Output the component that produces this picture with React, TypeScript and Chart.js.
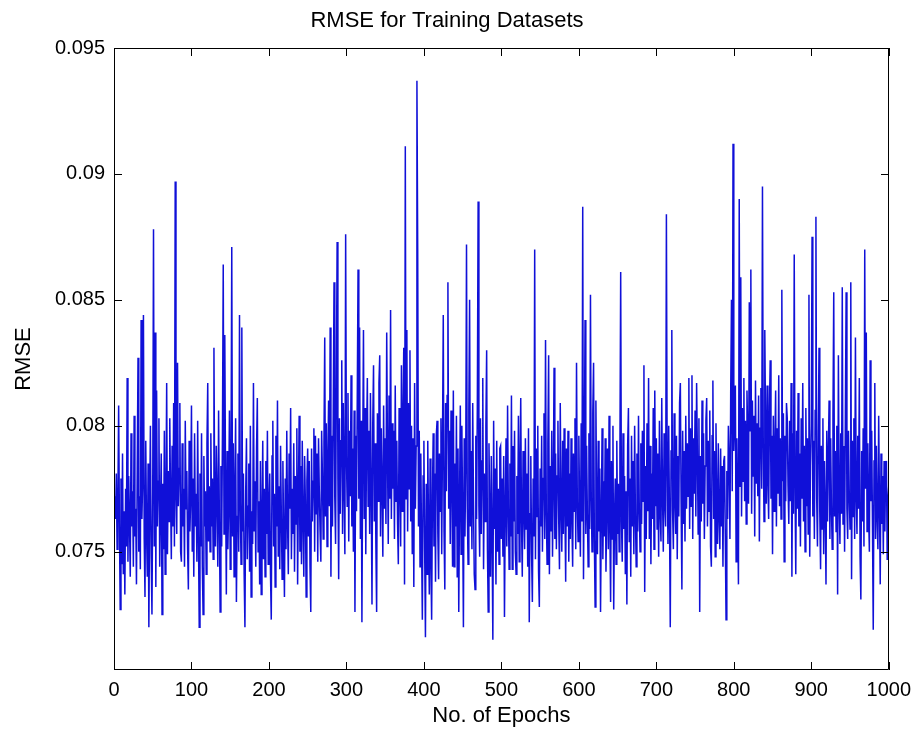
import React, { useEffect, useRef } from "react";
import { Chart, registerables } from "chart.js";

Chart.register(...registerables);

const chartTitle = "RMSE for Training Datasets";
const xAxisLabel = "No. of Epochs";
const yAxisLabel = "RMSE";

const xTickValues = [0, 100, 200, 300, 400, 500, 600, 700, 800, 900, 1000];
const xTickLabels = ["0", "100", "200", "300", "400", "500", "600", "700", "800", "900", "1000"];
const yTickValues = [0.075, 0.08, 0.085, 0.09, 0.095];
const yTickLabels = ["0.075", "0.08", "0.085", "0.09", "0.095"];
const yMin = 0.0703;
const yMax = 0.095;
const xMin = 0;
const xMax = 1000;

// RMSE per epoch (epochs 1..1000)
const rmse: number[] = [
  0.0772, 0.0763, 0.0781, 0.0751, 0.0769, 0.0808, 0.0761, 0.0727, 0.0779, 0.0745,
  0.0789, 0.0741, 0.0766, 0.0733, 0.0775, 0.0752, 0.0819, 0.0746, 0.0780, 0.0762,
  0.0740, 0.0797, 0.0760, 0.0774, 0.0744, 0.0804, 0.0756, 0.0767, 0.0737, 0.0783,
  0.0827, 0.0750, 0.0772, 0.0743, 0.0842, 0.0763, 0.0778, 0.0844, 0.0755, 0.0732,
  0.0794, 0.0758, 0.0740, 0.0785, 0.0720, 0.0767, 0.0800, 0.0748, 0.0725, 0.0774,
  0.0878, 0.0752, 0.0837, 0.0736, 0.0814, 0.0760, 0.0778, 0.0803, 0.0744, 0.0768,
  0.0789, 0.0725, 0.0777, 0.0751, 0.0798, 0.0741, 0.0769, 0.0817, 0.0749, 0.0782,
  0.0762, 0.0803, 0.0772, 0.0747, 0.0792, 0.0760, 0.0809, 0.0752, 0.0897, 0.0772,
  0.0757, 0.0825, 0.0768, 0.0783, 0.0809, 0.0750, 0.0746, 0.0793, 0.0760, 0.0775,
  0.0744, 0.0802, 0.0767, 0.0782, 0.0751, 0.0735, 0.0794, 0.0758, 0.0772, 0.0808,
  0.0750, 0.0779, 0.0740, 0.0797, 0.0760, 0.0773, 0.0746, 0.0802, 0.0757, 0.0720,
  0.0781, 0.0752, 0.0797, 0.0744, 0.0725, 0.0788, 0.0760, 0.0774, 0.0741, 0.0793,
  0.0817, 0.0754, 0.0776, 0.0750, 0.0797, 0.0760, 0.0779, 0.0747, 0.0831, 0.0768,
  0.0752, 0.0792, 0.0771, 0.0744, 0.0806, 0.0763, 0.0726, 0.0784, 0.0752, 0.0798,
  0.0864, 0.0757, 0.0836, 0.0777, 0.0733, 0.0790, 0.0751, 0.0769, 0.0806, 0.0743,
  0.0782, 0.0871, 0.0756, 0.0793, 0.0740, 0.0775, 0.0803, 0.0730, 0.0764, 0.0789,
  0.0750, 0.0844, 0.0769, 0.0745, 0.0839, 0.0758, 0.0781, 0.0741, 0.0720, 0.0774,
  0.0795, 0.0747, 0.0768, 0.0785, 0.0742, 0.0800, 0.0732, 0.0766, 0.0753, 0.0817,
  0.0758, 0.0778, 0.0744, 0.0791, 0.0811, 0.0750, 0.0770, 0.0737, 0.0786, 0.0733,
  0.0762, 0.0794, 0.0747, 0.0775, 0.0740, 0.0786, 0.0757, 0.0798, 0.0745, 0.0768,
  0.0781, 0.0741, 0.0723, 0.0788, 0.0802, 0.0752, 0.0773, 0.0736, 0.0796, 0.0760,
  0.0810, 0.0748, 0.0776, 0.0743, 0.0792, 0.0764, 0.0739, 0.0786, 0.0756, 0.0732,
  0.0779, 0.0751, 0.0798, 0.0762, 0.0741, 0.0789, 0.0767, 0.0807, 0.0747, 0.0775,
  0.0757, 0.0793, 0.0742, 0.0780, 0.0761, 0.0799, 0.0737, 0.0772, 0.0804, 0.0750,
  0.0784, 0.0745, 0.0794, 0.0763, 0.0740, 0.0788, 0.0770, 0.0732, 0.0778, 0.0791,
  0.0756, 0.0786, 0.0744, 0.0726, 0.0791, 0.0762, 0.0778, 0.0799, 0.0750, 0.0796,
  0.0765, 0.0789, 0.0746, 0.0795, 0.0774, 0.0758, 0.0746, 0.0798, 0.0781, 0.0755,
  0.0793, 0.0835, 0.0764, 0.0801, 0.0752, 0.0786, 0.0810, 0.0768, 0.0839, 0.0740,
  0.0796, 0.0760, 0.0805, 0.0857, 0.0771, 0.0753, 0.0817, 0.0873, 0.0779, 0.0739,
  0.0803, 0.0765, 0.0794, 0.0826, 0.0757, 0.0809, 0.0776, 0.0749, 0.0876, 0.0788,
  0.0768, 0.0813, 0.0754, 0.0798, 0.0772, 0.0820, 0.0760, 0.0791, 0.0750, 0.0806,
  0.0726, 0.0796, 0.0766, 0.0811, 0.0862, 0.0771, 0.0839, 0.0755, 0.0802, 0.0722,
  0.0788, 0.0838, 0.0763, 0.0807, 0.0749, 0.0794, 0.0819, 0.0768, 0.0798, 0.0757,
  0.0813, 0.0775, 0.0729, 0.0801, 0.0824, 0.0762, 0.0793, 0.0753, 0.0726, 0.0805,
  0.0770, 0.0817, 0.0828, 0.0756, 0.0799, 0.0776, 0.0748, 0.0808, 0.0767, 0.0795,
  0.0761, 0.0837, 0.0789, 0.0753, 0.0812, 0.0771, 0.0846, 0.0763, 0.0801, 0.0775,
  0.0798, 0.0755, 0.0816, 0.0770, 0.0794, 0.0761, 0.0745, 0.0807, 0.0778, 0.0752,
  0.0824, 0.0766, 0.0803, 0.0831, 0.0737, 0.0911, 0.0771, 0.0838, 0.0758, 0.0809,
  0.0775, 0.0830, 0.0762, 0.0800, 0.0749, 0.0795, 0.0736, 0.0817, 0.0767, 0.0792,
  0.0937, 0.0870, 0.0760, 0.0798, 0.0744, 0.0789, 0.0753, 0.0723, 0.0780, 0.0794,
  0.0750, 0.0716, 0.0777, 0.0741, 0.0794, 0.0758, 0.0733, 0.0787, 0.0747, 0.0723,
  0.0772, 0.0797, 0.0752, 0.0781, 0.0738, 0.0796, 0.0802, 0.0757, 0.0739, 0.0789,
  0.0766, 0.0803, 0.0749, 0.0794, 0.0844, 0.0758, 0.0735, 0.0809, 0.0774, 0.0812,
  0.0857, 0.0767, 0.0798, 0.0753, 0.0806, 0.0779, 0.0744, 0.0814, 0.0744, 0.0785,
  0.0760, 0.0804, 0.0740, 0.0791, 0.0726, 0.0770, 0.0808, 0.0749, 0.0800, 0.0765,
  0.0720, 0.0795, 0.0756, 0.0784, 0.0872, 0.0767, 0.0745, 0.0806, 0.0850, 0.0760,
  0.0790, 0.0751, 0.0809, 0.0770, 0.0741, 0.0735, 0.0796, 0.0763, 0.0810, 0.0889,
  0.0768, 0.0748, 0.0803, 0.0757, 0.0786, 0.0819, 0.0743, 0.0781, 0.0762, 0.0800,
  0.0830, 0.0751, 0.0726, 0.0793, 0.0766, 0.0740, 0.0788, 0.0756, 0.0715, 0.0802,
  0.0759, 0.0783, 0.0737, 0.0794, 0.0750, 0.0775, 0.0745, 0.0791, 0.0792, 0.0755,
  0.0779, 0.0748, 0.0788, 0.0724, 0.0766, 0.0795, 0.0752, 0.0808, 0.0768, 0.0743,
  0.0785, 0.0756, 0.0812, 0.0743, 0.0792, 0.0762, 0.0798, 0.0750, 0.0741, 0.0780,
  0.0757, 0.0804, 0.0746, 0.0784, 0.0811, 0.0761, 0.0740, 0.0790, 0.0767, 0.0751,
  0.0795, 0.0759, 0.0781, 0.0744, 0.0799, 0.0722, 0.0765, 0.0788, 0.0749, 0.0730,
  0.0779, 0.0756, 0.0870, 0.0747, 0.0791, 0.0764, 0.0800, 0.0742, 0.0728, 0.0783,
  0.0760, 0.0796, 0.0750, 0.0779, 0.0805, 0.0755, 0.0834, 0.0766, 0.0745, 0.0793,
  0.0828, 0.0741, 0.0784, 0.0758, 0.0798, 0.0748, 0.0776, 0.0823, 0.0755, 0.0789,
  0.0751, 0.0780, 0.0802, 0.0763, 0.0743, 0.0809, 0.0767, 0.0750, 0.0794, 0.0757,
  0.0799, 0.0768, 0.0738, 0.0791, 0.0760, 0.0798, 0.0746, 0.0781, 0.0755, 0.0795,
  0.0763, 0.0744, 0.0789, 0.0766, 0.0803, 0.0751, 0.0825, 0.0770, 0.0754, 0.0796,
  0.0767, 0.0748, 0.0801, 0.0762, 0.0887, 0.0739, 0.0785, 0.0842, 0.0757, 0.0792,
  0.0765, 0.0744, 0.0797, 0.0759, 0.0852, 0.0772, 0.0750, 0.0805, 0.0825, 0.0755,
  0.0728, 0.0810, 0.0768, 0.0749, 0.0794, 0.0758, 0.0783, 0.0726, 0.0764, 0.0799,
  0.0747, 0.0778, 0.0756, 0.0795, 0.0742, 0.0767, 0.0791, 0.0751, 0.0804, 0.0760,
  0.0730, 0.0786, 0.0755, 0.0800, 0.0727, 0.0763, 0.0779, 0.0745, 0.0794, 0.0757,
  0.0777, 0.0750, 0.0789, 0.0861, 0.0762, 0.0746, 0.0797, 0.0759, 0.0780, 0.0741,
  0.0774, 0.0729, 0.0792, 0.0807, 0.0754, 0.0779, 0.0740, 0.0796, 0.0760, 0.0786,
  0.0749, 0.0800, 0.0765, 0.0744, 0.0789, 0.0758, 0.0804, 0.0767, 0.0750, 0.0793,
  0.0761, 0.0798, 0.0770, 0.0824, 0.0734, 0.0784, 0.0755, 0.0801, 0.0766, 0.0819,
  0.0755, 0.0792, 0.0745, 0.0781, 0.0763, 0.0807, 0.0751, 0.0814, 0.0768, 0.0795,
  0.0759, 0.0789, 0.0748, 0.0802, 0.0766, 0.0754, 0.0811, 0.0772, 0.0750, 0.0797,
  0.0769, 0.0760, 0.0884, 0.0784, 0.0753, 0.0800, 0.0763, 0.0720, 0.0790, 0.0838,
  0.0766, 0.0751, 0.0805, 0.0771, 0.0757, 0.0796, 0.0747, 0.0788, 0.0764, 0.0809,
  0.0817, 0.0769, 0.0735, 0.0798, 0.0761, 0.0790, 0.0754, 0.0804, 0.0767, 0.0793,
  0.0772, 0.0819, 0.0759, 0.0799, 0.0768, 0.0820, 0.0755, 0.0795, 0.0773, 0.0806,
  0.0764, 0.0817, 0.0789, 0.0757, 0.0803, 0.0726, 0.0788, 0.0762, 0.0810, 0.0769,
  0.0797, 0.0755, 0.0784, 0.0802, 0.0811, 0.0760, 0.0794, 0.0766, 0.0806, 0.0752,
  0.0744, 0.0796, 0.0818, 0.0763, 0.0790, 0.0748, 0.0801, 0.0769, 0.0753, 0.0793,
  0.0764, 0.0751, 0.0791, 0.0760, 0.0784, 0.0744, 0.0786, 0.0788, 0.0757, 0.0723,
  0.0782, 0.0763, 0.0800, 0.0787, 0.0755, 0.0813, 0.0850, 0.0774, 0.0912, 0.0790,
  0.0803, 0.0816, 0.0746, 0.0795, 0.0767, 0.0737, 0.0890, 0.0776, 0.0859, 0.0764,
  0.0807, 0.0778, 0.0819, 0.0770, 0.0802, 0.0761, 0.0814, 0.0795, 0.0769, 0.0849,
  0.0798, 0.0862, 0.0765, 0.0810, 0.0780, 0.0804, 0.0756, 0.0818, 0.0777, 0.0801,
  0.0772, 0.0812, 0.0754, 0.0799, 0.0815, 0.0775, 0.0895, 0.0794, 0.0762, 0.0838,
  0.0800, 0.0769, 0.0816, 0.0778, 0.0763, 0.0807, 0.0826, 0.0771, 0.0796, 0.0749,
  0.0804, 0.0766, 0.0792, 0.0814, 0.0760, 0.0799, 0.0773, 0.0820, 0.0768, 0.0795,
  0.0763, 0.0854, 0.0778, 0.0805, 0.0746, 0.0796, 0.0770, 0.0809, 0.0803, 0.0776,
  0.0761, 0.0802, 0.0770, 0.0817, 0.0740, 0.0797, 0.0765, 0.0868, 0.0777, 0.0741,
  0.0798, 0.0767, 0.0813, 0.0760, 0.0789, 0.0752, 0.0803, 0.0771, 0.0817, 0.0762,
  0.0792, 0.0750, 0.0807, 0.0768, 0.0795, 0.0757, 0.0852, 0.0748, 0.0784, 0.0800,
  0.0875, 0.0764, 0.0794, 0.0755, 0.0806, 0.0883, 0.0771, 0.0752, 0.0797, 0.0831,
  0.0765, 0.0743, 0.0792, 0.0759, 0.0803, 0.0749, 0.0786, 0.0767, 0.0737, 0.0798,
  0.0762, 0.0789, 0.0810, 0.0755, 0.0795, 0.0768, 0.0751, 0.0804, 0.0853, 0.0764,
  0.0790, 0.0758, 0.0800, 0.0733, 0.0828, 0.0771, 0.0753, 0.0797, 0.0765, 0.0855,
  0.0761, 0.0792, 0.0750, 0.0805, 0.0853, 0.0767, 0.0755, 0.0798, 0.0774, 0.0759,
  0.0857, 0.0739, 0.0794, 0.0764, 0.0803, 0.0755, 0.0835, 0.0772, 0.0757, 0.0796,
  0.0767, 0.0819, 0.0748, 0.0731, 0.0790, 0.0762, 0.0799, 0.0752, 0.0870, 0.0775,
  0.0837, 0.0758, 0.0793, 0.0765, 0.0750, 0.0826, 0.0770, 0.0798, 0.0760, 0.0719,
  0.0786, 0.0817, 0.0755, 0.0792, 0.0764, 0.0751, 0.0804, 0.0770, 0.0737, 0.0789,
  0.0761, 0.0780, 0.0749, 0.0786, 0.0758, 0.0784, 0.0786, 0.0747, 0.0771, 0.0776,
];

const FONT = "'Liberation Sans', Arial, Helvetica, sans-serif";

const matlabAxesPlugin = {
  id: "matlabAxes",
  afterDraw(chart: any) {
    const { ctx, chartArea, scales } = chart;
    const left = Math.round(chartArea.left);
    const right = Math.round(chartArea.right);
    const top = Math.round(chartArea.top);
    const bottom = Math.round(chartArea.bottom);
    const tick = 8;
    ctx.save();
    ctx.strokeStyle = "#000";
    ctx.lineWidth = 1;
    ctx.beginPath();
    ctx.rect(left + 0.5, top + 0.5, right - left - 1, bottom - top - 1);
    for (const v of xTickValues) {
      const px = Math.round(scales.x.getPixelForValue(v)) + 0.5;
      ctx.moveTo(px, bottom);
      ctx.lineTo(px, bottom - tick);
      ctx.moveTo(px, top);
      ctx.lineTo(px, top + tick);
    }
    for (const v of yTickValues) {
      const py = Math.round(scales.y.getPixelForValue(v)) + 0.5;
      ctx.moveTo(left, py);
      ctx.lineTo(left + tick, py);
      ctx.moveTo(right, py);
      ctx.lineTo(right - tick, py);
    }
    ctx.stroke();
    ctx.restore();
  },
};

export default function App() {
  const canvasRef = useRef<HTMLCanvasElement | null>(null);

  useEffect(() => {
    const canvas = canvasRef.current;
    if (!canvas) return;
    const points = rmse.map((v, i) => ({ x: i + 1, y: v }));
    const chart = new Chart(canvas, {
      type: "line",
      data: {
        datasets: [
          {
            data: points,
            borderColor: "#1010d8",
            borderWidth: 1.5,
            pointRadius: 0,
            tension: 0,
            fill: false,
          },
        ],
      },
      options: {
        responsive: false,
        maintainAspectRatio: false,
        animation: false,
        events: [],
        layout: { padding: { left: 0, right: 25, top: 0, bottom: 0 } },
        plugins: {
          legend: { display: false },
          tooltip: { enabled: false },
          title: {
            display: true,
            text: chartTitle,
            color: "#000",
            font: { family: FONT, size: 22, weight: "normal", lineHeight: 1.2 },
            padding: { top: 8, bottom: 13.6 },
          },
        },
        scales: {
          x: {
            type: "linear",
            min: xMin,
            max: xMax,
            afterBuildTicks: (s: any) => {
              s.ticks = xTickValues.map((v) => ({ value: v }));
            },
            afterFit: (s: any) => {
              s.height = 70;
            },
            grid: { display: false, drawTicks: false },
            border: { display: false },
            ticks: {
              color: "#000",
              font: { family: FONT, size: 20 },
              padding: 8,
              maxRotation: 0,
              autoSkip: false,
              callback: (_v: any, i: number) => xTickLabels[i],
            },
            title: {
              display: true,
              text: xAxisLabel,
              color: "#000",
              font: { family: FONT, size: 22 },
              padding: { top: 0, bottom: 11 },
            },
          },
          y: {
            type: "linear",
            min: yMin,
            max: yMax,
            afterBuildTicks: (s: any) => {
              s.ticks = yTickValues.map((v) => ({ value: v }));
            },
            afterFit: (s: any) => {
              s.width = 114;
            },
            grid: { display: false, drawTicks: false },
            border: { display: false },
            ticks: {
              color: "#000",
              font: { family: FONT, size: 20 },
              padding: 9,
              autoSkip: false,
              callback: (_v: any, i: number) => yTickLabels[i],
            },
            title: {
              display: true,
              text: yAxisLabel,
              color: "#000",
              font: { family: FONT, size: 22 },
              padding: { top: 11, bottom: 0 },
            },
          },
        },
      },
      plugins: [matlabAxesPlugin],
    } as any);
    return () => chart.destroy();
  }, []);

  return (
    <div
      style={{
        position: "absolute",
        left: 0,
        top: 0,
        width: 919,
        height: 740,
        background: "#fff",
      }}
    >
      <canvas ref={canvasRef} width={919} height={740} style={{ display: "block" }} />
    </div>
  );
}
